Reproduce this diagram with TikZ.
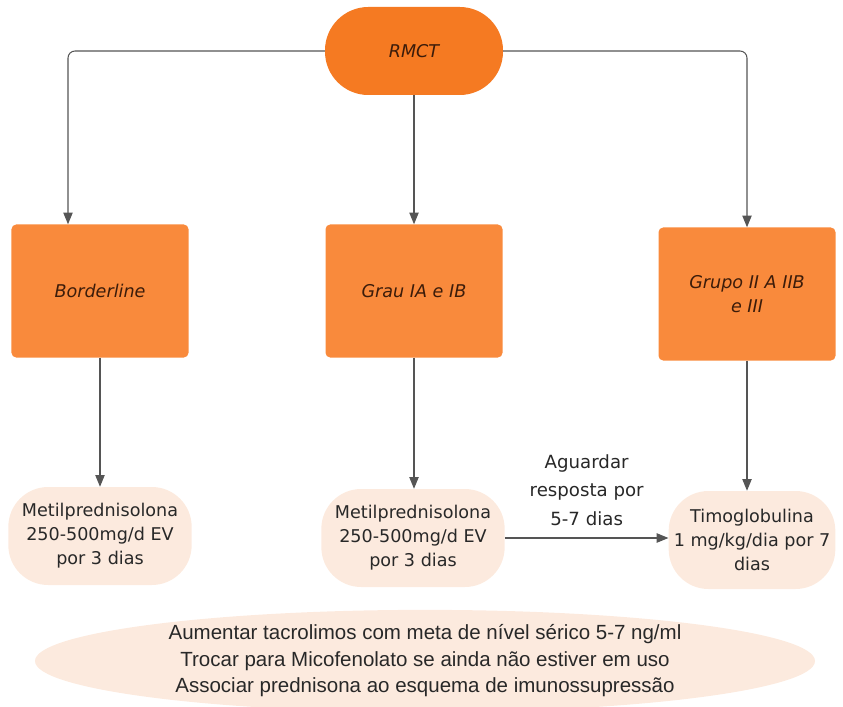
\documentclass[tikz,border=0pt]{standalone}
\usepackage{fontspec}
\setmainfont{DejaVu Sans}
\newfontfamily\notafont{Liberation Sans}
\usetikzlibrary{arrows.meta,shapes.geometric}

\begin{document}
\begin{tikzpicture}[x=0.03cm,y=-0.03cm,font=\fontsize{15}{20.5}\selectfont,
	conn/.style={draw=linhacor,line width=0.9pt,rounded corners=6pt,-{Triangle[length=10pt,width=8pt]}},
	inicio/.style={fill=rmctcor,rounded corners=37pt,minimum width=5.34cm,minimum height=2.64cm,text=textocor,font=\fontsize{15}{20.5}\selectfont\itshape},
	grupo/.style={fill=caixacor,rounded corners=4pt,minimum width=5.31cm,minimum height=3.99cm,align=center,text=textocor,font=\fontsize{15}{20.5}\selectfont\itshape},
	trat/.style={fill=tratcor,rounded corners=34pt,minimum width=5.5cm,minimum height=2.94cm,align=center,inner sep=1pt,text=letracor}]
	%%% Colores
	\definecolor{rmctcor}{RGB}{245,122,34}   % laranja forte
	\definecolor{caixacor}{RGB}{249,138,60}  % laranja
	\definecolor{tratcor}{RGB}{252,234,222}  % pessego claro
	\definecolor{linhacor}{RGB}{85,85,85}
	\definecolor{textocor}{RGB}{60,28,10}
	\definecolor{letracor}{RGB}{40,40,40}

	\useasboundingbox (0,0) rectangle (843,707);

	%%% Diagnostico
	\node[inicio] (rmct) at (414,51) {RMCT};

	%%% Classificacao
	\node[grupo] (bord) at (100,291) {Borderline};
	\node[grupo] (grau) at (414,291) {Grau IA e IB};
	\node[grupo] (grupo) at (747,294) {Grupo II A IIB\\e III};

	%%% Tratamento
	\node[trat] (trat1) at (100,536) {Metilprednisolona\\250-500mg/d EV\\por 3 dias};
	\node[trat] (trat2) at (413,538) {Metilprednisolona\\250-500mg/d EV\\por 3 dias};
	\node[trat,minimum width=5.0cm] (trat3) at (752,540) {Timoglobulina\\1 mg/kg/dia por 7\\dias};

	%%% Conexoes
	\draw[conn] (rmct.west) -| ([xshift=-0.96cm]bord.north);
	\draw[conn] (rmct.south) -- (grau.north);
	\draw[conn] (rmct.east) -| (grupo.north);
	\draw[conn] (bord.south) -- (trat1.north);
	\draw[conn] (grau.south) -- (grau.south |- trat2.north);
	\draw[conn] (grupo.south) -- (grupo.south |- trat3.north);
	\draw[conn] (trat2.east) -- (trat2.east -| trat3.west)
		node[midway,above=7pt,align=center,text=letracor,font=\fontsize{15.5}{24}\selectfont] (espera) {Aguardar\\resposta por\\5-7 dias};

	%%% Conduta geral
	\node[ellipse,fill=tratcor,minimum width=23.4cm,minimum height=2.55cm,inner sep=0pt,align=center,
		text=letracor,font=\notafont\fontsize{17.5}{22.6}\selectfont] (conduta) at (425,661)
		{Aumentar tacrolimos com meta de nível sérico 5-7 ng/ml\\
		 Trocar para Micofenolato se ainda não estiver em uso\\
		 Associar prednisona ao esquema de imunossupressão};
\end{tikzpicture}
\end{document}
